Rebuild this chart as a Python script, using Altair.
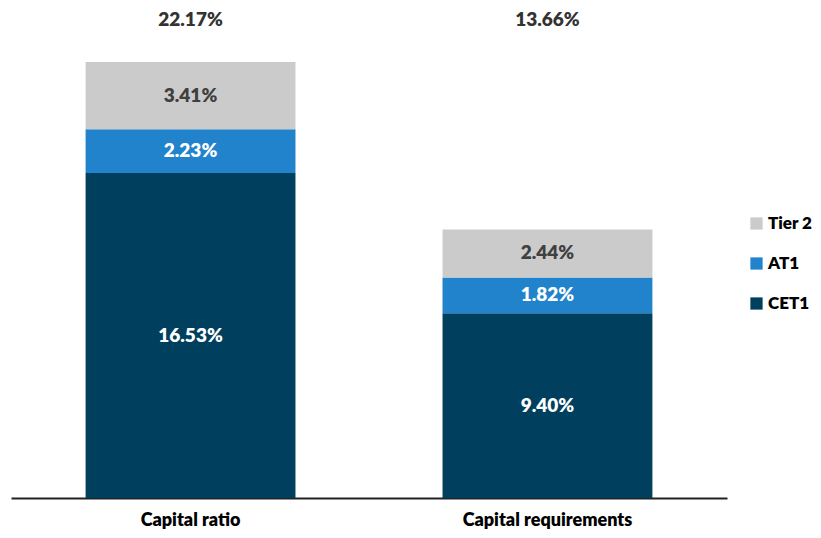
import altair as alt
import pandas as pd

categories = ["Capital ratio", "Capital requirements"]
components = ["CET1", "AT1", "Tier 2"]
cet1 = [16.53, 9.40]
at1 = [2.23, 1.82]
tier2 = [3.41, 2.44]
totals = [22.17, 13.66]

rows = []
for i, c in enumerate(categories):
    for j, (comp, vals) in enumerate(zip(components, [cet1, at1, tier2])):
        rows.append({"category": c, "component": comp, "value": vals[i], "order": j,
                     "label": f"{vals[i]:.2f}%"})
df = pd.DataFrame(rows)
tot_df = pd.DataFrame({"category": categories, "total": totals,
                       "label": [f"{t:.2f}%" for t in totals]})

FONT = "Lato"
WEIGHT = 800
colors = ["#cbcbcb", "#2183cb", "#00405e"]
legend_order = ["Tier 2", "AT1", "CET1"]

xenc = alt.X("category:N", sort=categories,
             scale=alt.Scale(paddingInner=0.412, paddingOuter=0.209),
             axis=alt.Axis(title=None, labelAngle=0, labelFont=FONT, labelFontSize=18,
                           labelFontWeight=WEIGHT, labelColor="#000000", labelPadding=13,
                           ticks=False, domainColor="#222222", domainWidth=2))
yscale = alt.Scale(domain=[0, 24.77], nice=False, zero=True)

bars = alt.Chart(df).transform_stack(
    stack="value", groupby=["category"], as_=["y0", "y1"],
    sort=[alt.SortField("order", order="ascending")]
).mark_bar().encode(
    x=xenc,
    y=alt.Y("y0:Q", scale=yscale, axis=None),
    y2="y1:Q",
    color=alt.Color("component:N", sort=legend_order,
                    scale=alt.Scale(domain=legend_order, range=colors),
                    legend=alt.Legend(title=None, orient="none", legendX=737, legendY=204,
                                      padding=0, symbolType="square", symbolSize=150,
                                      symbolStrokeWidth=0, labelFont=FONT,
                                      labelFontSize=17, labelFontWeight=WEIGHT,
                                      labelColor="#000000", rowPadding=22,
                                      labelOffset=3)),
)

labels = alt.Chart(df).transform_stack(
    stack="value", groupby=["category"], as_=["y0", "y1"],
    sort=[alt.SortField("order", order="ascending")]
).transform_calculate(
    mid="(datum.y0 + datum.y1) / 2",
    tcol="datum.component == 'Tier 2' ? '#404040' : '#ffffff'"
).mark_text(font=FONT, fontSize=19, fontWeight=WEIGHT, baseline="middle").encode(
    x=alt.X("category:N", sort=categories),
    y=alt.Y("mid:Q", scale=yscale),
    text="label:N",
    color=alt.Color("tcol:N", scale=None),
)

tot = alt.Chart(tot_df).mark_text(font=FONT, fontSize=19, fontWeight=WEIGHT,
                                  baseline="middle", color="#333333").encode(
    x=alt.X("category:N", sort=categories),
    y=alt.value(9),
    text="label:N",
)

chart = alt.layer(bars, labels, tot).properties(
    width=716, height=487,
    padding={"left": 3, "top": 3, "right": 0, "bottom": 0},
).configure_view(stroke=None).configure_axis(grid=False)

chart.save("out.html", embed_options={"renderer": "svg", "actions": False})
